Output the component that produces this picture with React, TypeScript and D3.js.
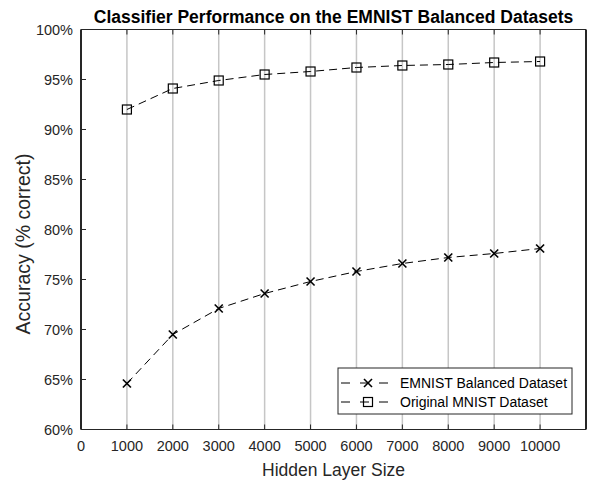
import React from "react";
import * as d3 from "d3";

const hiddenSizes = [1000, 2000, 3000, 4000, 5000, 6000, 7000, 8000, 9000, 10000];
const emnistAcc = [64.6, 69.5, 72.1, 73.6, 74.8, 75.8, 76.6, 77.2, 77.6, 78.1];
const mnistAcc = [92.0, 94.1, 94.9, 95.5, 95.8, 96.2, 96.4, 96.5, 96.7, 96.8];
const xTicks = [0, 1000, 2000, 3000, 4000, 5000, 6000, 7000, 8000, 9000, 10000];
const yTicks = [60, 65, 70, 75, 80, 85, 90, 95, 100];
const seriesNames = ["EMNIST Balanced Dataset", "Original MNIST Dataset"];

const W = 590, H = 480;
const L = 81, R = 586, T = 29.5, B = 429.5;
const font = "'Liberation Sans', Arial, Helvetica, sans-serif";

function XMark({ x, y }: { x: number; y: number }) {
  const s = 4;
  return (
    <g stroke="#000" strokeWidth={1.6}>
      <line x1={x - s} y1={y - s} x2={x + s} y2={y + s} />
      <line x1={x - s} y1={y + s} x2={x + s} y2={y - s} />
    </g>
  );
}
function SqMark({ x, y }: { x: number; y: number }) {
  const s = 4.5;
  return <rect x={x - s} y={y - s} width={2 * s} height={2 * s} fill="none" stroke="#000" strokeWidth={1.2} />;
}

export default function App() {
  const x = d3.scaleLinear().domain([0, 11000]).range([L, R]);
  const y = d3.scaleLinear().domain([60, 100]).range([B, T]);
  const line = d3.line<number>().x((_, i) => x(hiddenSizes[i])).y((d) => y(d));
  const dash = "8,5";
  const legX = 338, legY = 368, legW = 234, legH = 46;
  return (
    <svg width={W} height={H} style={{ position: "absolute", left: 0, top: 0, background: "#fff" }} fontFamily={font}>
      <rect x={0} y={0} width={W} height={H} fill="#fff" />
      {/* grid */}
      {hiddenSizes.map((v) => (
        <line key={"g" + v} x1={x(v)} x2={x(v)} y1={T} y2={B} stroke="#c6c6c6" strokeWidth={1.5} />
      ))}
      {/* ticks */}
      {xTicks.map((v) => (
        <g key={"xt" + v} stroke="#262626" strokeWidth={1}>
          <line x1={x(v)} x2={x(v)} y1={B} y2={B - 5} />
          <line x1={x(v)} x2={x(v)} y1={T} y2={T + 5} />
        </g>
      ))}
      {yTicks.map((v) => (
        <line key={"yt" + v} x1={L} x2={L + 5} y1={y(v)} y2={y(v)} stroke="#262626" strokeWidth={1} />
      ))}
      {/* frame */}
      <line x1={L} x2={R} y1={T} y2={T} stroke="#262626" strokeWidth={1} />
      <line x1={L} x2={R} y1={B} y2={B} stroke="#262626" strokeWidth={1} />
      <line x1={L} x2={L} y1={T} y2={B} stroke="#262626" strokeWidth={2} />
      <line x1={R} x2={R} y1={T} y2={B} stroke="#262626" strokeWidth={2} />
      {/* tick labels */}
      {xTicks.map((v) => (
        <text key={"xl" + v} x={x(v)} y={451} textAnchor="middle" fontSize={14.5} fill="#262626">{v}</text>
      ))}
      {yTicks.map((v) => (
        <text key={"yl" + v} x={73} y={y(v) + 5} textAnchor="end" fontSize={14.5} fill="#262626">{v + "%"}</text>
      ))}
      {/* series */}
      <path d={line(emnistAcc) || ""} fill="none" stroke="#000" strokeWidth={1} strokeDasharray={dash} />
      <path d={line(mnistAcc) || ""} fill="none" stroke="#000" strokeWidth={1} strokeDasharray={dash} />
      {emnistAcc.map((v, i) => <XMark key={"e" + i} x={x(hiddenSizes[i])} y={y(v)} />)}
      {mnistAcc.map((v, i) => <SqMark key={"m" + i} x={x(hiddenSizes[i])} y={y(v)} />)}
      {/* legend */}
      <rect x={legX} y={legY} width={legW} height={legH} fill="#fff" stroke="#262626" strokeWidth={1} />
      {seriesNames.map((n, i) => {
        const cy = legY + 15 + i * 19;
        return (
          <g key={"lg" + i}>
            <line x1={341} x2={395} y1={cy} y2={cy} stroke="#000" strokeWidth={1} strokeDasharray="9,10" />
            {i === 0 ? <XMark x={368} y={cy} /> : <SqMark x={368} y={cy} />}
            <text x={400} y={cy + 5} fontSize={14} fill="#000">{n}</text>
          </g>
        );
      })}
      {/* titles */}
      <text x={(L + R) / 2} y={23} textAnchor="middle" fontSize={17.5} fontWeight="bold" fill="#000">
        Classifier Performance on the EMNIST Balanced Datasets
      </text>
      <text x={(L + R) / 2} y={476} textAnchor="middle" fontSize={17.5} fill="#262626">Hidden Layer Size</text>
      <text transform={`translate(30,244) rotate(-90)`} textAnchor="middle" fontSize={19.5} fill="#262626">
        Accuracy (% correct)
      </text>
    </svg>
  );
}
